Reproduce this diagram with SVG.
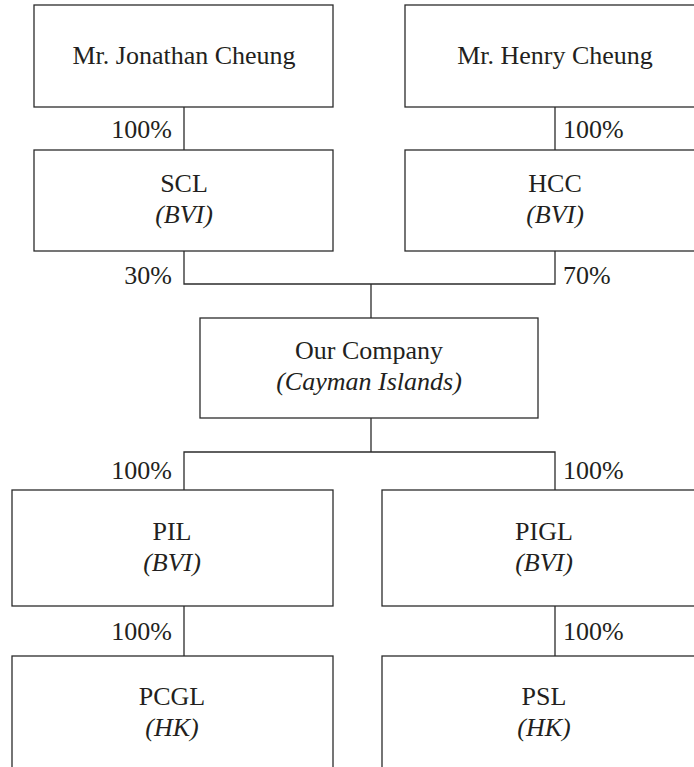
<svg xmlns="http://www.w3.org/2000/svg" width="694" height="767" viewBox="0 0 694 767">
<style>
.box{fill:#fff;stroke:#2b2b2b;stroke-width:1.3}
.ln{fill:none;stroke:#2b2b2b;stroke-width:1.3}
text{font-family:"Liberation Serif","Times New Roman",serif;font-size:26px;fill:#231f20}
.c{text-anchor:middle}
.i{font-style:italic}
.r{text-anchor:end}
</style>
<rect width="694" height="767" fill="#fff"/>
<g id="connectors">
<path class="ln" d="M184,107V150M555,107V150M184,251V284H555V251M371,284V318M371,418V452M184,490V452H555V490M184,606V656M555,606V656"/>
<text class="r" x="172" y="138">100%</text>
<text x="563" y="138">100%</text>
<text class="r" x="172" y="284">30%</text>
<text x="563" y="284">70%</text>
<text class="r" x="172" y="479">100%</text>
<text x="563" y="479">100%</text>
<text class="r" x="172" y="640">100%</text>
<text x="563" y="640">100%</text>
</g>
<g id="jonathan"><rect class="box" x="34" y="5" width="299" height="102"/><text class="c" x="184" y="64">Mr. Jonathan Cheung</text></g>
<g id="henry"><rect class="box" x="405" y="5" width="300" height="102"/><text class="c" x="555" y="64">Mr. Henry Cheung</text></g>
<g id="scl"><rect class="box" x="34" y="150" width="299" height="101"/><text class="c" x="184" y="192">SCL</text><text class="c i" x="184" y="223">(BVI)</text></g>
<g id="hcc"><rect class="box" x="405" y="150" width="300" height="101"/><text class="c" x="555" y="192">HCC</text><text class="c i" x="555" y="223">(BVI)</text></g>
<g id="company"><rect class="box" x="200" y="318" width="338" height="100"/><text class="c" x="369" y="359">Our Company</text><text class="c i" x="369" y="390">(Cayman Islands)</text></g>
<g id="pil"><rect class="box" x="12" y="490" width="321" height="116"/><text class="c" x="172" y="540">PIL</text><text class="c i" x="172" y="571">(BVI)</text></g>
<g id="pigl"><rect class="box" x="382" y="490" width="324" height="116"/><text class="c" x="544" y="540">PIGL</text><text class="c i" x="544" y="571">(BVI)</text></g>
<g id="pcgl"><rect class="box" x="12" y="656" width="321" height="130"/><text class="c" x="172" y="705">PCGL</text><text class="c i" x="172" y="736">(HK)</text></g>
<g id="psl"><rect class="box" x="382" y="656" width="324" height="130"/><text class="c" x="544" y="705">PSL</text><text class="c i" x="544" y="736">(HK)</text></g>
</svg>
